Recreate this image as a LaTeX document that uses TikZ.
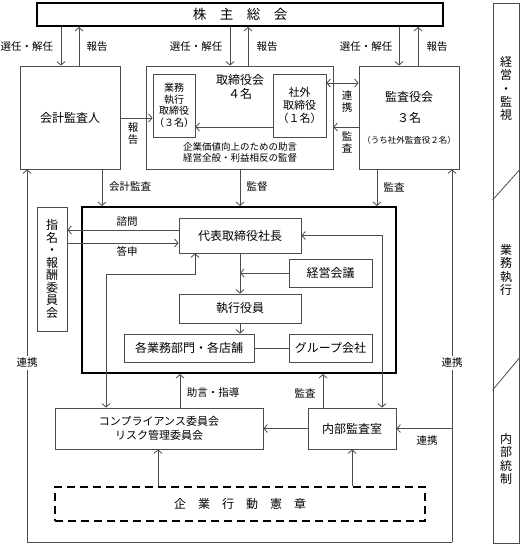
\documentclass[tikz,border=0pt]{standalone}
\usepackage{fontspec}
\setmainfont{Noto Sans CJK JP}
\usetikzlibrary{arrows.meta}

\begin{document}
\begin{tikzpicture}[x=1pt,y=1pt,yscale=-1,xscale=1,
    >={Straight Barb[length=3.5pt,width=8pt]},
    conn/.style={draw=black!70,line width=0.8pt},
    box/.style={draw=black!70,line width=0.8pt,rectangle,inner sep=1pt,align=center,font=\fontsize{12}{14}\selectfont},
    boldbox/.style={draw=black,line width=2pt,rectangle,inner sep=0pt},
    lbl/.style={inner sep=0pt,font=\fontsize{10.5}{12}\selectfont},
    vlbl/.style={inner sep=0pt,align=center,font=\fontsize{10.5}{12}\selectfont},
    note/.style={inner sep=0pt,align=center,font=\fontsize{9.5}{11}\selectfont}]
    \useasboundingbox (0,0) rectangle (521,546);

    % shareholders, board, auditors
    \node[boldbox,minimum width=406,minimum height=23,font=\fontsize{13.5}{15}\selectfont] (agm) at (240,14.5) {株　主　総　会};
    \node[box,minimum width=100,minimum height=103] (kaikei) at (70,117.5) {会計監査人};
    \node[box,minimum width=187,minimum height=103] (board) at (239.5,117.5) {};
    \node[box,minimum width=42,minimum height=63,font=\fontsize{10}{11.5}\selectfont] (execdir) at (174,105.5) {業務\\執行\\取締役\\（３名）};
    \node[box,minimum width=53,minimum height=63,font=\fontsize{11}{13}\selectfont] (outdir) at (299.5,105.5) {社外\\取締役\\（１名）};
    \node[box,minimum width=100,minimum height=103] (kansa) at (409,117.5) {監査役会\\[7pt]３名\\[7pt]{\fontsize{8.5}{10}\selectfont（うち社外監査役２名）}};
    \node[lbl,font=\fontsize{12}{14}\selectfont] (boardttl) at (240,80) {取締役会};
    \node[lbl,font=\fontsize{12}{14}\selectfont] (boardnum) at (240,94) {４名};
    \node[note] (boardtxt) at (240,152.5) {企業価値向上のための助言\\経営全般・利益相反の監督};

    \draw[conn,->] (61,0 |- agm.south) -- (61,0 |- kaikei.north);
    \draw[conn,->] (79,0 |- kaikei.north) -- (79,0 |- agm.south);
    \draw[conn,->] (230,0 |- agm.south) -- (230,0 |- board.north);
    \draw[conn,->] (248,0 |- board.north) -- (248,0 |- agm.south);
    \draw[conn,->] (399,0 |- agm.south) -- (399,0 |- kansa.north);
    \draw[conn,->] (418,0 |- kansa.north) -- (418,0 |- agm.south);
    \node[lbl] (sel1) at (27,47) {選任・解任};
    \node[lbl] (rep1) at (97,47) {報告};
    \node[lbl] (sel2) at (196,47) {選任・解任};
    \node[lbl] (rep2) at (267,47) {報告};
    \node[lbl] (sel3) at (366,47) {選任・解任};
    \node[lbl] (rep3) at (437,47) {報告};

    \draw[conn,->] (kaikei.east |- 0,118) -- (execdir.west |- 0,118);
    \draw[conn,<->] (outdir.east |- 0,83) -- (kansa.west |- 0,83);
    \draw[conn,->] (outdir.west |- 0,127) -- (execdir.east |- 0,127);
    \draw[conn,->] (kansa.west |- 0,127) -- (board.east |- 0,127);
    \node[vlbl] (rep4) at (133,134) {報\\告};
    \node[vlbl] (coop1) at (347,102) {連\\携};
    \node[vlbl] (aud1) at (347,142.5) {監\\査};

    % execution
    \node[boldbox,minimum width=314,minimum height=166] (main) at (239,290) {};
    \node[box,minimum width=30,minimum height=124,font=\fontsize{12}{12.5}\selectfont] (nomi) at (52,269) {指\\名\\・\\報\\酬\\委\\員\\会};
    \node[box,minimum width=122,minimum height=35] (ceo) at (240,235.5) {代表取締役社長};
    \node[box,minimum width=83,minimum height=28] (mgmt) at (330.5,273) {経営会議};
    \node[box,minimum width=122,minimum height=29] (officer) at (240,308.5) {執行役員};
    \node[box,minimum width=130,minimum height=28] (dept) at (189,348) {各業務部門・各店舗};
    \node[box,minimum width=83,minimum height=28] (group) at (330.5,348) {グループ会社};

    \draw[conn,->] (102,0 |- kaikei.south) -- (102,0 |- main.north);
    \draw[conn,->] (240,0 |- board.south) -- (240,0 |- main.north);
    \draw[conn,->] (377,0 |- kansa.south) -- (377,0 |- main.north);
    \node[lbl] (acc) at (130,187) {会計監査};
    \node[lbl] (sup) at (257,187) {監督};
    \node[lbl] (aud2) at (394,187) {監査};

    \draw[conn,->] (ceo.west |- 0,230) -- (nomi.east |- 0,230);
    \draw[conn,->] (nomi.east |- 0,243) -- (ceo.west |- 0,243);
    \node[lbl] (ask) at (127,222) {諮問};
    \node[lbl] (ans) at (127,251) {答申};
    \draw[conn,->] (ceo.south) -- (officer.north);
    \draw[conn,->] (mgmt.west) -- (240,0 |- mgmt.west);
    \draw[conn,->] (officer.south) -- (240,0 |- dept.north);
    \draw[conn] (dept.east) -- (group.west);

    % internal control
    \node[box,minimum width=208,minimum height=41,font=\fontsize{11}{14.5}\selectfont] (comp) at (159,428.5) {コンプライアンス委員会\\リスク管理委員会};
    \node[box,minimum width=88,minimum height=41] (audit) at (352,428.5) {内部監査室};
    \node[boldbox,dash pattern=on 8pt off 5pt,minimum width=370,minimum height=34,font=\fontsize{12}{14}\selectfont] (code) at (240,504) {企　業　行　動　憲　章};

    \draw[conn,<->] (195,0 |- ceo.south) -- (195,274) -- (106,274) -- (106,0 |- comp.north);
    \draw[conn,<->] (ceo.east) -- (382,0 |- ceo.east) -- (382,0 |- audit.north);
    \draw[conn,->] (180,0 |- comp.north) -- (180,0 |- main.south);
    \draw[conn,->] (323,0 |- audit.north) -- (323,0 |- main.south);
    \node[lbl] (adv) at (213,393) {助言・指導};
    \node[lbl] (aud3) at (305,393) {監査};
    \draw[conn,->] (audit.west) -- (comp.east);
    \draw[conn,->] (158,0 |- code.north) -- (158,0 |- comp.south);
    \draw[conn,->] (352,0 |- code.north) -- (audit.south);

    % three-way cooperation loop
    \coordinate (lb) at (27,542);
    \coordinate (rb) at (452,542);
    \coordinate (rj) at (452,428.5);
    \draw[conn,->] (rb) -- (lb) -- (lb |- kaikei.south);
    \draw[conn,->] (rb) -- (rb |- kansa.south);
    \draw[conn,->] (rj) -- (audit.east);
    \node[lbl,fill=white,inner sep=2pt] (coop2) at (27,363) {連携};
    \node[lbl,fill=white,inner sep=2pt] (coop3) at (452,363) {連携};
    \node[lbl] (coop4) at (427,441) {連携};

    % side column
    \node[box,minimum width=26,minimum height=540] (side) at (506,273) {};
    \draw[conn] (side.west |- 0,200) -- (side.east |- 0,170);
    \draw[conn] (side.west |- 0,390) -- (side.east |- 0,358);
    \node[vlbl,font=\fontsize{12}{13.4}\selectfont] (keiei) at (506,88.5) {経\\営\\・\\監\\視};
    \node[vlbl,font=\fontsize{12}{13.4}\selectfont] (gyomu) at (506,270) {業\\務\\執\\行};
    \node[vlbl,font=\fontsize{12}{13.4}\selectfont] (naibu) at (506,459) {内\\部\\統\\制};
\end{tikzpicture}
\end{document}
